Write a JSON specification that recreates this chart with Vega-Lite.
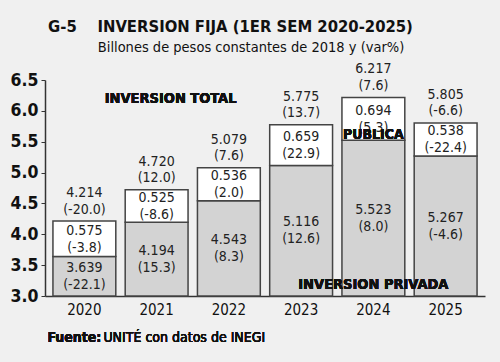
{
  "$schema": "https://vega.github.io/schema/vega-lite/v6.json",
  "width": 440,
  "height": 216,
  "autosize": "none",
  "padding": {"left": 45, "top": 80, "right": 15, "bottom": 66},
  "background": "#f0f0f0",
  "config": {
    "view": {"stroke": null},
    "font": "DejaVu Sans Condensed",
    "text": {"font": "DejaVu Sans Condensed"},
    "axisY": {"labelOverlap": false, "labelBound": false, "labelFlush": false, "tickCount": 8, "format": ".1f", "title": null, "grid": false}
  },
  "title": {
    "text": "G-5\u00a0\u00a0\u00a0\u00a0INVERSION FIJA (1ER SEM 2020-2025)",
    "subtitle": "\u200b\u00a0\u00a0\u00a0\u00a0\u00a0\u00a0\u00a0\u00a0\u00a0\u00a0\u00a0\u00a0Billones de pesos constantes de 2018 y (var%)",
    "anchor": "start",
    "dx": 38,
    "offset": 8,
    "font": "DejaVu Sans Condensed",
    "fontSize": 16.5,
    "fontWeight": "bold",
    "color": "#111111",
    "subtitleFont": "DejaVu Sans Condensed",
    "subtitleFontSize": 14.5,
    "subtitleColor": "#111111",
    "subtitlePadding": 5
  },
  "data": {
    "values": [
      {"year": "2020", "privada": 3.639, "pv": -22.1, "publica": 0.575, "pubv": -3.8, "total": 4.214, "tv": -20.0},
      {"year": "2021", "privada": 4.194, "pv": 15.3, "publica": 0.525, "pubv": -8.6, "total": 4.720, "tv": 12.0},
      {"year": "2022", "privada": 4.543, "pv": 8.3, "publica": 0.536, "pubv": 2.0, "total": 5.079, "tv": 7.6},
      {"year": "2023", "privada": 5.116, "pv": 12.6, "publica": 0.659, "pubv": 22.9, "total": 5.775, "tv": 13.7},
      {"year": "2024", "privada": 5.523, "pv": 8.0, "publica": 0.694, "pubv": 5.3, "total": 6.217, "tv": 7.6},
      {"year": "2025", "privada": 5.267, "pv": -4.6, "publica": 0.538, "pubv": -22.4, "total": 5.805, "tv": -6.6}
    ]
  },
  "transform": [
    {"calculate": "[format(datum.privada, '.3f'), '(' + replace(format(datum.pv, '.1f'), '\u2212', '-') + ')']", "as": "privLabel"},
    {"calculate": "[format(datum.publica, '.3f'), '(' + replace(format(datum.pubv, '.1f'), '\u2212', '-') + ')']", "as": "pubLabel"},
    {"calculate": "[format(datum.total, '.3f'), '(' + replace(format(datum.tv, '.1f'), '\u2212', '-') + ')']", "as": "totLabel"},
    {"calculate": "(datum.privada + 3) / 2", "as": "privMid"},
    {"calculate": "(datum.privada + datum.total) / 2", "as": "pubMid"}
  ],
  "encoding": {
    "x": {
      "field": "year",
      "type": "nominal",
      "scale": {"paddingInner": 0.13, "paddingOuter": 0.11},
      "axis": {
        "title": null,
        "labelAngle": 0,
        "labelFont": "DejaVu Sans Condensed",
        "labelFontSize": 15,
        "labelColor": "#111111",
        "labelPadding": 6,
        "ticks": false,
        "domainColor": "#333333",
        "domainWidth": 1.5
      }
    }
  },
  "layer": [
    {
      "mark": {"type": "bar", "fill": "#d3d3d3", "stroke": "#444444", "strokeWidth": 1.5},
      "encoding": {
        "y": {
          "field": "privada",
          "type": "quantitative",
          "scale": {"domain": [3, 6.5], "zero": false, "nice": false},
          "axis": {
            "title": null,
            "values": [3.0, 3.5, 4.0, 4.5, 5.0, 5.5, 6.0, 6.5],
            "format": ".1f",
            "grid": false,
            "labelOverlap": false,
            "labelFont": "DejaVu Sans Condensed",
            "labelFontSize": 17.5,
            "labelFontWeight": "bold",
            "labelColor": "#111111",
            "labelPadding": 3,
            "tickSize": 4,
            "tickColor": "#333333",
            "domainColor": "#333333",
            "domainWidth": 1.5
          }
        },
        "y2": {"datum": 3}
      }
    },
    {
      "mark": {"type": "bar", "fill": "#ffffff", "stroke": "#444444", "strokeWidth": 1.5},
      "encoding": {
        "y": {"field": "total", "type": "quantitative"},
        "y2": {"field": "privada"}
      }
    },
    {
      "mark": {"type": "text", "fontSize": 14, "lineHeight": 17, "baseline": "middle", "dy": -8.5, "color": "#222222"},
      "encoding": {
        "y": {"field": "privMid", "type": "quantitative"},
        "text": {"field": "privLabel"}
      }
    },
    {
      "mark": {"type": "text", "fontSize": 14, "lineHeight": 17, "baseline": "middle", "dy": -8, "color": "#222222"},
      "encoding": {
        "y": {"field": "pubMid", "type": "quantitative"},
        "text": {"field": "pubLabel"}
      }
    },
    {
      "mark": {"type": "text", "fontSize": 14, "lineHeight": 16.5, "baseline": "middle", "dy": -28, "color": "#222222"},
      "encoding": {
        "y": {"field": "total", "type": "quantitative"},
        "text": {"field": "totLabel"}
      }
    },
    {
      "mark": {"type": "text", "fontSize": 14.5, "fontWeight": "bold", "color": "#111111", "baseline": "middle", "dx": 14},
      "encoding": {
        "x": {"datum": "2021"},
        "y": {"datum": 6.19},
        "text": {"value": "INVERSION TOTAL"}
      }
    },
    {
      "mark": {"type": "text", "fontSize": 14, "fontWeight": "bold", "color": "#111111", "baseline": "alphabetic", "dy": -1},
      "encoding": {
        "x": {"datum": "2024"},
        "y": {"datum": 5.523},
        "text": {"value": "PUBLICA"}
      }
    },
    {
      "mark": {"type": "text", "fontSize": 14.5, "fontWeight": "bold", "color": "#111111", "baseline": "middle"},
      "encoding": {
        "x": {"datum": "2024"},
        "y": {"datum": 3.18},
        "text": {"value": "INVERSION PRIVADA"}
      }
    },
    {
      "mark": {"type": "text", "fontSize": 14, "fontWeight": "bold", "color": "#111111", "baseline": "middle", "align": "left", "dx": -37, "clip": false},
      "encoding": {
        "x": {"datum": "2020"},
        "y": {"datum": 2.32},
        "text": {"value": "Fuente:"}
      }
    },
    {
      "mark": {"type": "text", "fontSize": 14, "color": "#111111", "baseline": "middle", "align": "left", "dx": 19, "clip": false},
      "encoding": {
        "x": {"datum": "2020"},
        "y": {"datum": 2.32},
        "text": {"value": "UNITÉ con datos de INEGI"}
      }
    }
  ]
}
